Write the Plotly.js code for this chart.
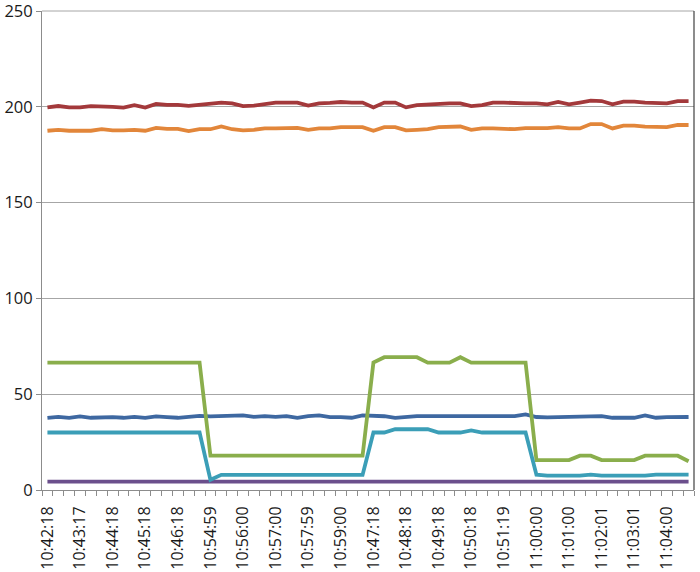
<!DOCTYPE html>
<html>
<head>
<meta charset="utf-8">
<script src="https://cdn.plot.ly/plotly-3.0.1.min.js"></script>
<style>html,body{margin:0;padding:0;background:#fff;}#chart{width:700px;height:572px;}</style>
</head>
<body>
<div id="chart"></div>
<script>
// Tick labels (one per 3 samples)
const tickLabels = ["10:42:18","10:43:17","10:44:18","10:45:18","10:46:18","10:54:59","10:56:00","10:57:00","10:57:59","10:59:00",
  "10:47:18","10:48:18","10:49:18","10:50:18","10:51:19","11:00:00","11:01:00","11:02:01","11:03:01","11:04:00"];

const seriesBlue = [37.7,38.2,37.7,38.4,37.7,38.0,38.0,37.7,38.2,37.7,38.4,38.0,37.7,38.2,38.7,38.4,38.6,38.6,38.9,38.2,
  38.6,38.2,38.6,37.7,38.6,38.9,38.0,38.0,37.7,38.9,38.9,38.5,37.7,38.3,38.6,38.6,38.6,38.6,38.6,38.6,
  38.6,38.6,38.6,38.6,39.5,38.1,37.9,38.1,37.9,38.1,38.3,38.6,37.7,37.7,37.7,38.9,37.7,38.0,38.1,38.1];

const seriesRed = [199.7,200.4,199.7,199.7,200.4,200.4,200.0,199.6,200.9,199.6,201.5,201.0,201.0,200.5,201.0,201.8,202.2,201.8,200.4,200.6,
  201.5,202.2,202.2,202.2,200.6,201.8,202.0,202.5,202.2,202.2,199.7,202.2,202.2,199.7,200.9,201.2,201.8,201.8,201.8,200.4,
  200.9,202.2,202.2,201.8,201.8,201.8,201.3,202.5,201.3,202.2,203.2,203.0,201.3,202.7,202.7,202.2,202.2,201.8,203.0,203.0];

const seriesGreen = [66.5,66.5,66.5,66.5,66.5,66.5,66.5,66.5,66.5,66.5,66.5,66.5,66.5,66.5,66.5,17.9,17.9,17.9,17.9,17.9,
  17.9,17.9,17.9,17.9,17.9,17.9,17.9,17.9,17.9,17.9,66.5,69.3,69.3,69.3,69.3,66.5,66.5,66.5,69.3,66.5,
  66.5,66.5,66.5,66.5,66.5,15.6,15.6,15.6,15.6,17.9,17.9,15.6,15.6,15.6,15.6,17.9,17.9,17.9,17.9,15.0];

const seriesPurple = [4.4,4.4,4.4,4.4,4.4,4.4,4.4,4.4,4.4,4.4,4.4,4.4,4.4,4.4,4.4,4.4,4.4,4.4,4.4,4.4,
  4.4,4.4,4.4,4.4,4.4,4.4,4.4,4.4,4.4,4.4,4.4,4.4,4.4,4.4,4.4,4.4,4.4,4.4,4.4,4.4,
  4.4,4.4,4.4,4.4,4.4,4.4,4.4,4.4,4.4,4.4,4.4,4.4,4.4,4.4,4.4,4.4,4.4,4.4,4.4,4.4];

const seriesTeal = [30.0,30.0,30.0,30.0,30.0,30.0,30.0,30.0,30.0,30.0,30.0,30.0,30.0,30.0,30.0,5.3,7.9,7.9,7.9,7.9,
  7.9,7.9,7.9,7.9,7.9,7.9,7.9,7.9,7.9,7.9,30.0,30.0,31.7,31.7,31.7,31.7,30.0,30.0,30.0,31.1,
  30.0,30.0,30.0,30.0,30.0,8.0,7.5,7.5,7.5,7.5,8.0,7.5,7.5,7.5,7.5,7.5,8.0,8.0,8.0,8.0];

const seriesOrange = [187.5,188.0,187.5,187.5,187.5,188.3,187.7,187.7,188.0,187.5,189.0,188.5,188.5,187.3,188.3,188.3,189.7,188.3,187.7,188.0,
  188.7,188.7,189.0,189.0,188.0,188.7,188.7,189.4,189.4,189.4,187.5,189.4,189.4,187.7,188.0,188.3,189.4,189.7,189.7,188.0,
  188.7,188.7,188.7,188.3,188.9,188.9,188.9,189.4,188.7,188.7,191.0,191.0,188.7,190.2,190.2,189.7,189.4,189.4,190.5,190.5];

const yTicks = [0, 50, 100, 150, 200, 250];
const yMax = 250;

const series = [
  {name: "Series1", y: seriesBlue,   color: "#3E68A1"},
  {name: "Series2", y: seriesRed,    color: "#A3393B"},
  {name: "Series3", y: seriesGreen,  color: "#8AAE4C"},
  {name: "Series4", y: seriesPurple, color: "#6B4F8C"},
  {name: "Series5", y: seriesTeal,   color: "#3B9EB7"},
  {name: "Series6", y: seriesOrange, color: "#E2863A"}
];

const n = seriesBlue.length;
const xIdx = seriesBlue.map((_, i) => i);

const traces = series.map(s => ({
  type: "scatter", mode: "lines", name: s.name,
  x: xIdx, y: s.y,
  line: {color: s.color, width: 3.8},
  hoverinfo: "y"
}));

const font = {family: "Open Sans, Liberation Sans, sans-serif", size: 16.5, color: "#1a1a1a"};
const xfont = {family: "Open Sans, Liberation Sans, sans-serif", size: 16, color: "#1a1a1a"};

const layout = {
  width: 700, height: 572,
  margin: {l: 42, r: 6, t: 11, b: 82},
  paper_bgcolor: "#ffffff", plot_bgcolor: "#ffffff",
  showlegend: false,
  font: font,
  xaxis: {
    range: [-0.5, n - 0.5],
    tickmode: "array",
    tickvals: tickLabels.map((_, k) => k * 3),
    ticktext: tickLabels,
    tickangle: -90,
    ticks: "",
    showgrid: false,
    zeroline: false,
    showline: true, linecolor: "#8c8c8c", linewidth: 1,
    tickfont: xfont,
    ticklabelstandoff: 9,
    ticklabeloverflow: "allow",
    minor: {ticks: "outside", ticklen: 5, tickcolor: "#8c8c8c", tickwidth: 1, tick0: -0.5, dtick: 1, showgrid: false}
  },
  yaxis: {
    range: [0, yMax],
    tickmode: "array", tickvals: yTicks, ticktext: yTicks.map(String),
    ticks: "outside", ticklen: 5, tickcolor: "#8c8c8c",
    showgrid: true, gridcolor: "#a6a6a6", gridwidth: 1,
    zeroline: false,
    showline: true, linecolor: "#8c8c8c", linewidth: 1,
    ticklabeloverflow: "allow",
    tickfont: font
  },
  shapes: [
    {type: "line", xref: "paper", yref: "paper", x0: 0, x1: 1, y0: 1, y1: 1,
     line: {color: "#a6a6a6", width: 1}},
    {type: "line", xref: "paper", yref: "paper", x0: 1, x1: 1, y0: 0, y1: 1,
     line: {color: "#404040", width: 1.2}}
  ]
};

Plotly.newPlot("chart", traces, layout, {displayModeBar: false, staticPlot: true});
</script>
</body>
</html>
